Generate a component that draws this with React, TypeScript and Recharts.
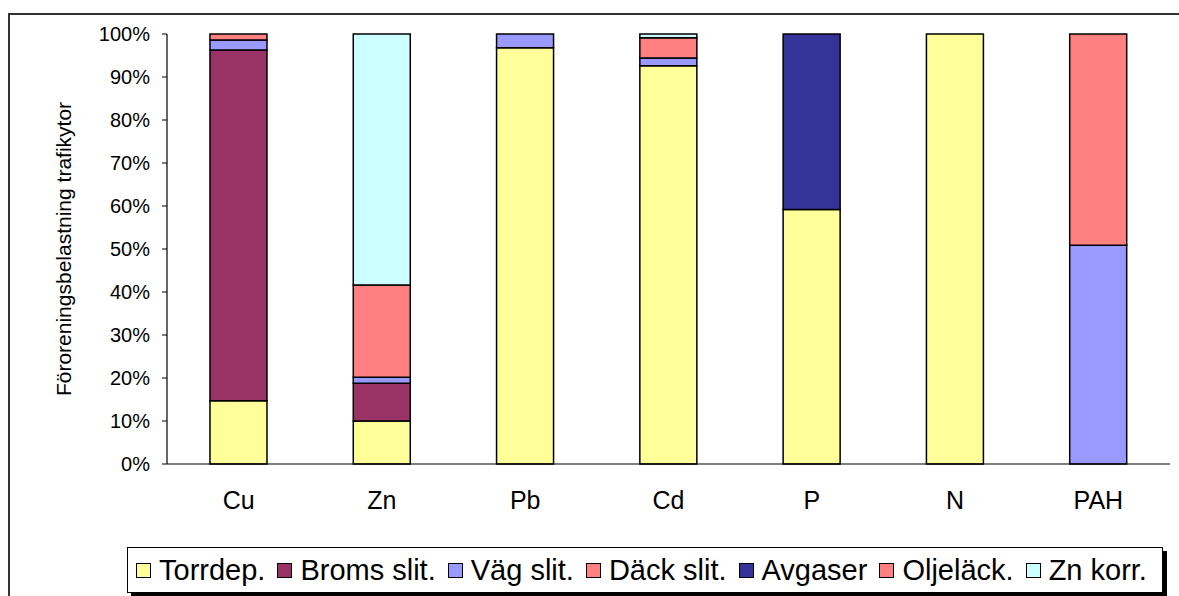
import React from 'react';
import {Bar, BarChart, Label, XAxis, YAxis} from "recharts";

const FONT = "Arial, 'Liberation Sans', sans-serif";

// categories (x axis)
const categories = ['Cu', 'Zn', 'Pb', 'Cd', 'P', 'N', 'PAH'];

// share of load per source, percent
const torrdep = [14.7, 10.0, 96.8, 92.6, 59.2, 100, 0];
const bromsSlit = [81.6, 8.8, 0, 0, 0, 0, 0];
const vagSlit = [2.3, 1.4, 3.2, 1.8, 0, 0, 50.9];
const dackSlit = [1.4, 21.4, 0, 4.7, 0, 0, 0];
const avgaser = [0, 0, 0, 0, 40.8, 0, 0];
const oljelack = [0, 0, 0, 0, 0, 0, 49.1];
const znKorr = [0, 58.4, 0, 0.9, 0, 0, 0];

const yTicks = [0, 10, 20, 30, 40, 50, 60, 70, 80, 90, 100];

const series = [
    {key: 'Torrdep.', values: torrdep, color: '#FFFF99'},
    {key: 'Broms slit.', values: bromsSlit, color: '#993366'},
    {key: 'Väg slit.', values: vagSlit, color: '#9999FF'},
    {key: 'Däck slit.', values: dackSlit, color: '#FF8080'},
    {key: 'Avgaser', values: avgaser, color: '#333399'},
    {key: 'Oljeläck.', values: oljelack, color: '#FF8080'},
    {key: 'Zn korr.', values: znKorr, color: '#CCFFFF'},
];

const data = categories.map((name, i) => {
    const row: Record<string, string | number> = {name};
    series.forEach(s => {
        row[s.key] = s.values[i];
    });
    return row;
});

const renderYLabel = (props: any) => {
    const vb = props.viewBox || {x: 0, y: 0, width: 0, height: 0};
    const cx = vb.x + 63;
    const cy = vb.y + vb.height / 2;
    return (
        <text x={cx} y={cy} transform={`rotate(-90, ${cx}, ${cy})`}
              textAnchor="middle" dominantBaseline="central"
              fontFamily={FONT} fontSize={21} fill="#000">
            Föroreningsbelastning trafikytor
        </text>
    );
};

const ChartLegend: React.FC = () => (
    <div style={{
        position: 'absolute', left: 127, top: 547, width: 1036, height: 46,
        boxSizing: 'border-box', border: '1.5px solid #000', background: '#fff',
        boxShadow: '4px 4px 0 #000', display: 'flex', alignItems: 'center',
        paddingLeft: 8, fontFamily: FONT, fontSize: 29, color: '#000', whiteSpace: 'nowrap'
    }}>
        {series.map(s => (
            <div key={s.key} style={{display: 'flex', alignItems: 'center', marginRight: 12}}>
                <span style={{
                    display: 'inline-block', width: 15, height: 15, boxSizing: 'border-box',
                    border: '1.5px solid #000', background: s.color, marginRight: 8
                }}/>
                <span>{s.key}</span>
            </div>
        ))}
    </div>
);

export default function App() {
    return (
        <div style={{position: 'absolute', left: 0, top: 0, width: 1179, height: 596, background: '#fff', overflow: 'hidden'}}>
            <div style={{
                position: 'absolute', left: 8, top: 13, width: 1200, height: 700,
                border: '2px solid #333', boxSizing: 'border-box'
            }}/>
            <div style={{position: 'absolute', left: 0, top: 0}}>
                <BarChart width={1179} height={596} data={data}
                          margin={{top: 34, right: 9, left: 0, bottom: 82}}
                          barCategoryGap="30%">
                    <XAxis dataKey="name" height={50} tickLine={false}
                           axisLine={{stroke: '#000', strokeWidth: 1.2}}
                           tickMargin={21}
                           tick={{fontFamily: FONT, fontSize: 25, fill: '#000'}}/>
                    <XAxis xAxisId="top" dataKey="name" orientation="top" height={0}
                           tick={false} tickLine={false} axisLine={{stroke: '#888'}}/>
                    <YAxis width={167} domain={[0, 100]} ticks={yTicks} interval={0}
                           tickFormatter={(v: number) => `${v}%`}
                           tickSize={5} tickMargin={12}
                           tickLine={{stroke: '#000'}} axisLine={{stroke: '#000', strokeWidth: 1.2}}
                           tick={{fontFamily: FONT, fontSize: 20, fill: '#000'}}>
                        <Label content={renderYLabel}/>
                    </YAxis>
                    <YAxis yAxisId="right" orientation="right" width={0} domain={[0, 100]}
                           tick={false} tickLine={false} axisLine={{stroke: '#888'}}/>
                    {series.map(s => (
                        <Bar key={s.key} dataKey={s.key} stackId="a" fill={s.color}
                             stroke="#000" strokeWidth={1.5} isAnimationActive={false}/>
                    ))}
                </BarChart>
            </div>
            <ChartLegend/>
        </div>
    );
}
